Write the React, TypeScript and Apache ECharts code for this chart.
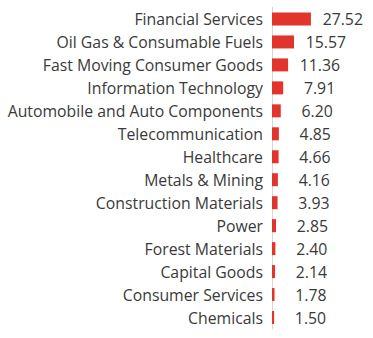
import React, { useEffect, useRef } from "react";
import * as echarts from "echarts";

const categories = [
  "Financial Services",
  "Oil Gas & Consumable Fuels",
  "Fast Moving Consumer Goods",
  "Information Technology",
  "Automobile and Auto Components",
  "Telecommunication",
  "Healthcare",
  "Metals & Mining",
  "Construction Materials",
  "Power",
  "Forest Materials",
  "Capital Goods",
  "Consumer Services",
  "Chemicals",
];

const values = [27.52, 15.57, 11.36, 7.91, 6.2, 4.85, 4.66, 4.16, 3.93, 2.85, 2.4, 2.14, 1.78, 1.5];

export default function App() {
  const ref = useRef<HTMLDivElement>(null);
  useEffect(() => {
    document.body.style.margin = "0";
    if (!ref.current) return;
    const chart = echarts.init(ref.current, null, { renderer: "svg" });
    const font = "'Open Sans', sans-serif";
    chart.setOption({
      animation: false,
      grid: { left: 272, right: 1, top: 7.5, bottom: 9, containLabel: false },
      xAxis: {
        type: "value",
        min: 0,
        max: 70.7,
        show: false,
      },
      yAxis: {
        type: "category",
        inverse: true,
        data: categories,
        axisLine: { show: true, lineStyle: { color: "#d6d6d6", width: 1 } },
        axisTick: { show: false },
        axisLabel: {
          color: "#3a3a3a",
          fontSize: 15.8,
          fontFamily: font,
          margin: 9,
        },
      },
      series: [
        {
          type: "bar",
          data: values,
          barWidth: 13,
          itemStyle: { color: "#e0342c" },
          label: {
            show: true,
            position: "right",
            distance: 8,
            formatter: (p: any) => "{v|" + Number(p.value).toFixed(2) + "}",
            rich: {
              v: {
                width: 44,
                align: "right",
                color: "#3a3a3a",
                fontSize: 15.8,
                fontFamily: font,
              },
            },
          },
        },
      ],
    });
    return () => chart.dispose();
  }, []);
  return <div ref={ref} style={{ width: 373, height: 338 }} />;
}
